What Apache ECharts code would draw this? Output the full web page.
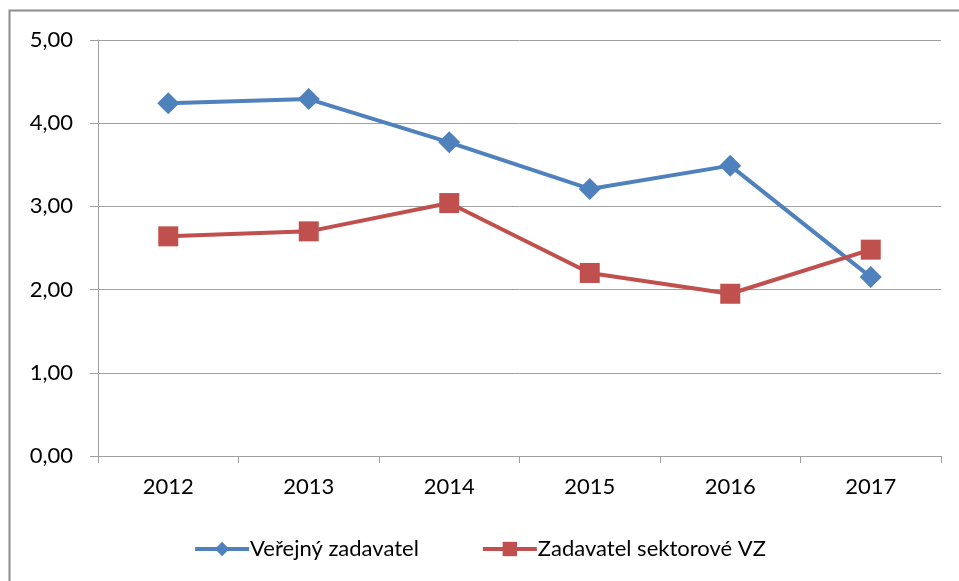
<!DOCTYPE html>
<html><head><meta charset="utf-8">
<script src="https://cdn.jsdelivr.net/npm/echarts@6/dist/echarts.min.js"></script>
<style>html,body{margin:0;padding:0;background:#fff}#c{width:959px;height:581px}</style>
</head><body><div id="c"></div>
<script>
const categories = ['2012','2013','2014','2015','2016','2017'];
const verejny = [4.24, 4.29, 3.77, 3.21, 3.49, 2.15];
const sektorove = [2.64, 2.70, 3.04, 2.20, 1.95, 2.48];
const seriesNames = ['Veřejný zadavatel', 'Zadavatel sektorové VZ'];

const font = 'Lato, "Open Sans", sans-serif';
const chart = echarts.init(document.getElementById('c'));
chart.setOption({
  animation: false,
  textStyle: {fontFamily: font},
  graphic: [{type:'rect', shape:{x:9.5,y:10.5,width:970,height:600}, style:{fill:'none', stroke:'#8c8c8c', lineWidth:2}, z:-1}],
  grid: {left:98, right:18, top:40, bottom:125},
  legend: {
    bottom: 16, left: 'center', itemGap: 62, itemWidth: 54, itemHeight: 18,
    lineStyle: {width: 4},
    textStyle: {fontSize: 22, color:'#000', fontFamily: font, padding:[0,0,0,-4]},
    data: seriesNames
  },
  xAxis: {
    type:'category', data: categories, boundaryGap: true,
    axisLine: {lineStyle:{color:'#a0a0a0', width:1}},
    axisTick: {show:true, length:7, lineStyle:{color:'#a0a0a0'}},
    axisLabel: {fontSize:22, color:'#000', margin:20, fontFamily: font}
  },
  yAxis: {
    type:'value', min:0, max:5, interval:1,
    axisLine: {show:true, lineStyle:{color:'#a0a0a0'}},
    axisTick: {show:true, length:8, inside:false, lineStyle:{color:'#a0a0a0'}},
    splitLine: {lineStyle:{color:'#a0a0a0'}},
    axisLabel: {fontSize:22, color:'#000', margin:25, fontFamily: font,
      formatter: v => v.toFixed(2).replace('.', ',')}
  },
  series: [
    {name: seriesNames[0], type:'line', data: verejny, symbol:'diamond', symbolSize:22,
     lineStyle:{width:4, color:'#4f81bd'}, itemStyle:{color:'#4f81bd'}},
    {name: seriesNames[1], type:'line', data: sektorove, symbol:'rect', symbolSize:20,
     lineStyle:{width:4, color:'#c0504d'}, itemStyle:{color:'#c0504d'}}
  ]
});
</script></body></html>
